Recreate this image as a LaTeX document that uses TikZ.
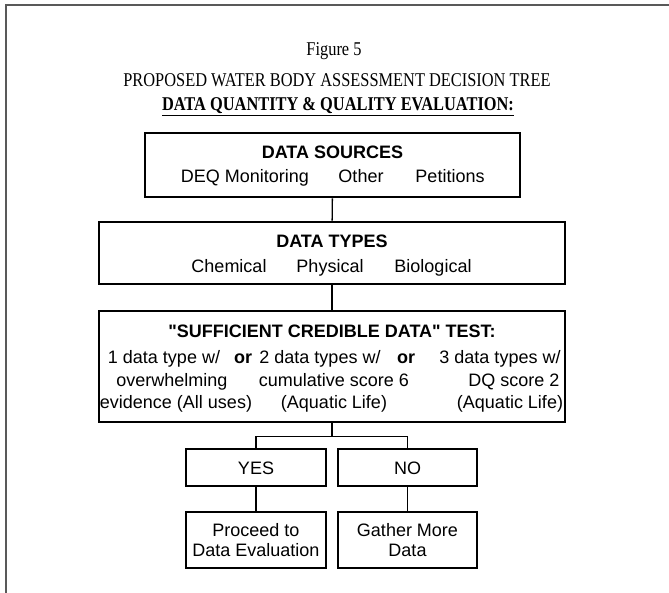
\documentclass[tikz,border=0pt]{standalone}
\usepackage{fontspec}
\setmainfont{Liberation Serif}
\newfontfamily\arialfont{Liberation Sans}
\newfontfamily\headfont[FakeStretch=0.84]{Liberation Serif}
\usetikzlibrary{positioning}

\begin{document}
\begin{tikzpicture}[
    x=1pt, y=-1pt,
    box/.style={rectangle, draw, line width=2.6pt, inner sep=0pt},
    txt/.style={inner sep=0pt, anchor=base, font=\arialfont\fontsize{18}{20}\selectfont},
    btxt/.style={txt, font=\arialfont\bfseries\fontsize{18}{20}\selectfont},
    head/.style={inner sep=0pt, font=\headfont\fontsize{19.5}{22}\selectfont},
    link/.style={line width=1.4pt}
]
\useasboundingbox (0,0) rectangle (669,593);

% page frame
\draw[gray!70!black, line width=2pt] (6,593) -- (6,5) -- (669,5);

% Heading
\node[head] (fig) at (334,51) {Figure 5};
\node[head] (title) at (337,80) {PROPOSED WATER BODY ASSESSMENT DECISION TREE};
\node[head, font=\headfont\bfseries\fontsize{19.5}{22}\selectfont] (sub) at (338,107) {\underline{DATA QUANTITY \& QUALITY EVALUATION:}};

% Data sources
\node[box, minimum width=375pt, minimum height=64pt] (sources) at (332.5,165) {};
\node[btxt] (sourceshd) at (332.5,159) {DATA SOURCES};
\node[txt] (deq) at (245,183) {DEQ Monitoring};
\node[txt] (other) at (361,183) {Other};
\node[txt] (petitions) at (450,183) {Petitions};

% Data types
\node[box, minimum width=466pt, minimum height=62pt] (types) at (332,253) {};
\node[btxt] (typeshd) at (332,247.5) {DATA TYPES};
\node[txt] (chem) at (229,272.5) {Chemical};
\node[txt] (phys) at (330,272.5) {Physical};
\node[txt] (bio) at (433,272.5) {Biological};

% Sufficient credible data test
\node[box, minimum width=466pt, minimum height=111pt] (test) at (332,366.5) {};
\node[btxt] (testhd) at (332,337.5) {"SUFFICIENT CREDIBLE DATA" TEST:};
\node[txt] (one) at (164,363.5) {1 data type w/};
\node[btxt] (or1) at (243,363.5) {or};
\node[txt] (two) at (320,363.5) {2 data types w/};
\node[btxt] (or2) at (406,363.5) {or};
\node[txt] (three) at (500,363.5) {3 data types w/};
\node[txt] (onea) at (172,386.5) {overwhelming};
\node[txt] (twoa) at (334,386.5) {cumulative score 6};
\node[txt] (threea) at (514,386.5) {DQ score 2};
\node[txt] (oneb) at (176,408.5) {evidence (All uses)};
\node[txt] (twob) at (334,408.5) {(Aquatic Life)};
\node[txt] (threeb) at (510,408.5) {(Aquatic Life)};

% Outcomes
\node[box, minimum width=140pt, minimum height=37pt] (yes) at (256,467.5) {};
\node[txt] at (256,474) {YES};
\node[box, minimum width=139pt, minimum height=37pt] (no) at (407.5,467.5) {};
\node[txt] at (407.5,474) {NO};
\node[box, minimum width=140pt, minimum height=56pt] (proceed) at (256,540) {};
\node[txt, align=center, anchor=center] at (proceed) {Proceed to\\Data Evaluation};
\node[box, minimum width=139pt, minimum height=56pt] (gather) at (407.5,540) {};
\node[txt, align=center, anchor=center] at (gather) {Gather More\\Data};

% Connectors
\draw[link] (sources) -- (types);
\draw[link] (types) -- (test);
\draw[link] (test.south) -- ++(0,13) coordinate (split);
\draw[link] (yes.north) |- (split) -| (no.north);
\draw[link] (yes) -- (proceed);
\draw[link] (no) -- (gather);

\end{tikzpicture}
\end{document}
